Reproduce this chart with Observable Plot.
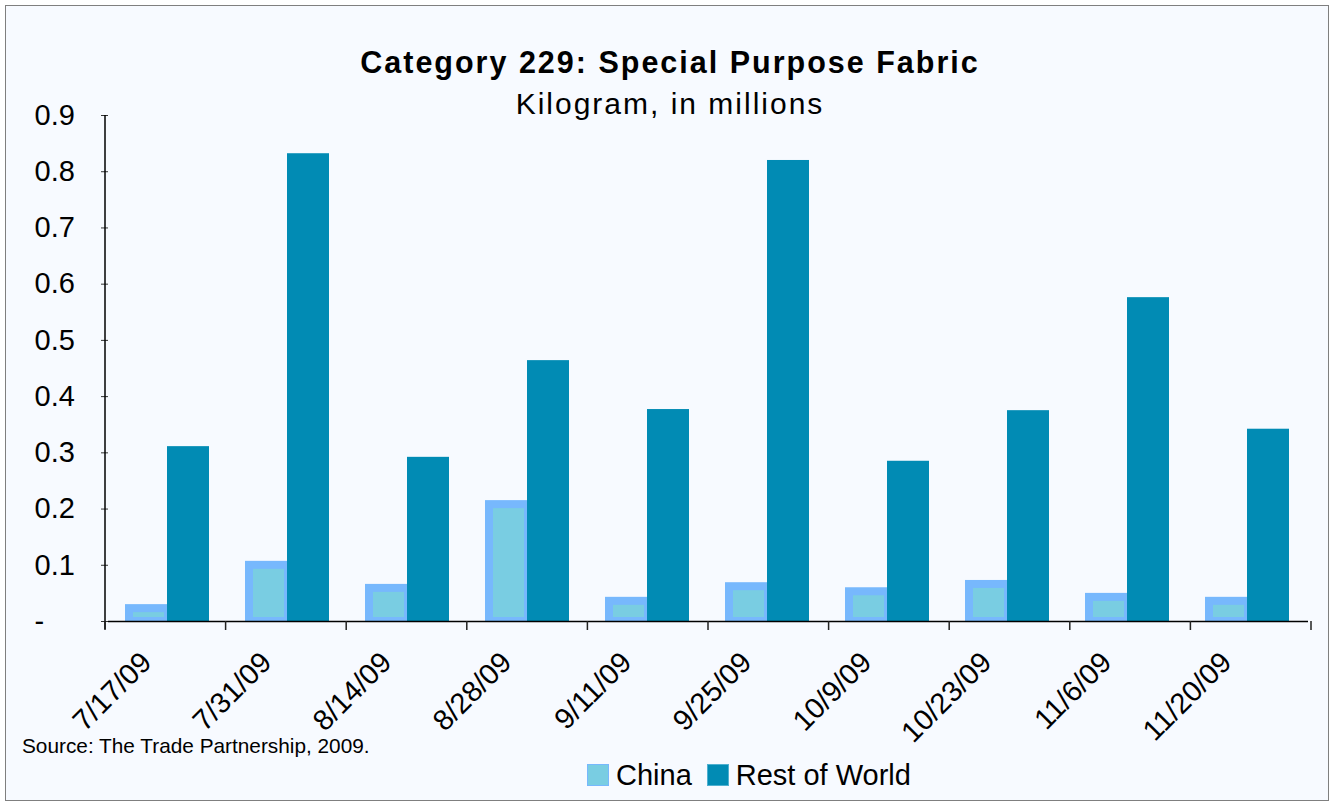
<!DOCTYPE html>
<html>
<head>
<meta charset="utf-8">
<script src="https://cdn.jsdelivr.net/npm/d3@7"></script>
<script src="https://cdn.jsdelivr.net/npm/@observablehq/plot@0.6"></script>
<style>
  html, body { margin: 0; padding: 0; background: #ffffff; }
  body { width: 1331px; height: 804px; position: relative; overflow: hidden; font-family: "Liberation Sans", Arial, sans-serif; }
  #frame { position: absolute; left: 5px; top: 5px; width: 1322px; height: 794px; border: 1px solid #7f7f7f; background: #f7faff; }
  #chart { position: absolute; left: 0; top: 0; }
  .title { position: absolute; left: 0; width: 1340px; text-align: center; line-height: 30px; color: #000; white-space: nowrap; letter-spacing: 2px; }
  #t1 { top: 47px; font-size: 30.5px; font-weight: bold; }
  #t2 { top: 89px; font-size: 30px; }
  #source { position: absolute; left: 22px; top: 735px; font-size: 20.8px; line-height: 21px; color: #000; white-space: nowrap; }
  #legend { position: absolute; left: 587px; top: 760px; font-size: 29px; line-height: 30px; display: flex; align-items: center; white-space: nowrap; color: #000; }
  .sw { display: inline-block; width: 22px; height: 22px; box-sizing: border-box; margin-right: 7px; }
  .item { display: flex; align-items: center; margin-right: 15px; }
</style>
</head>
<body>
<div id="frame"></div>
<div id="chart"></div>
<div class="title" id="t1">Category 229: Special Purpose Fabric</div>
<div class="title" id="t2">Kilogram, in millions</div>
<div id="source">Source: The Trade Partnership, 2009.</div>
<div id="legend"></div>
<script>
const dates = ["7/17/09", "7/31/09", "8/14/09", "8/28/09", "9/11/09", "9/25/09", "10/9/09", "10/23/09", "11/6/09", "11/20/09"];
const series = ["China", "Rest of World"];
const china = [0.030, 0.107, 0.066, 0.215, 0.043, 0.069, 0.060, 0.073, 0.050, 0.043];
const restOfWorld = [0.311, 0.832, 0.292, 0.464, 0.377, 0.820, 0.285, 0.375, 0.576, 0.342];
const yTicks = [0, 0.1, 0.2, 0.3, 0.4, 0.5, 0.6, 0.7, 0.8, 0.9];

const colors = { chinaEdge: "#77b8fd", chinaFill: "#79cde2", rest: "#018bb4" };

const chinaData = dates.map((d, i) => ({ date: d, series: "China", value: china[i] }));
const restData = dates.map((d, i) => ({ date: d, series: "Rest of World", value: restOfWorld[i] }));

const plot = Plot.plot({
  width: 1331,
  height: 804,
  marginTop: 115,
  marginBottom: 183,
  marginLeft: 105,
  marginRight: 20,
  style: { background: "transparent", fontFamily: "\"Liberation Sans\", Arial, sans-serif", fontSize: "29px", color: "#000", overflow: "visible" },
  fx: { domain: dates, padding: 0, label: null },
  x: { domain: series, paddingInner: 0, paddingOuter: 0.42, align: 0.46, axis: null },
  y: { domain: [0, 0.9], label: null },
  marks: [
    Plot.barY(chinaData, { fx: "date", x: "series", y: "value", fill: colors.chinaEdge }),
    Plot.barY(chinaData, { fx: "date", x: "series", y: "value", fill: colors.chinaFill, insetLeft: 8, insetRight: 3, insetTop: 8, insetBottom: 4 }),
    Plot.barY(restData, { fx: "date", x: "series", y: "value", fill: colors.rest }),
    Plot.ruleY([0], { stroke: "#000", strokeWidth: 1.5 }),
    Plot.axisY({ ticks: yTicks, tickSize: 7, tickPadding: 67, textAnchor: "start", tickFormat: d => d === 0 ? "-" : d.toFixed(1), label: null, fontSize: 29, stroke: "#333" }),
    Plot.axisFx({ anchor: "bottom", tickSize: 0, tickRotate: -45, tickPadding: 36, label: null, fontSize: 29, dx: -22 })
  ]
});
document.getElementById("chart").appendChild(plot);

// y axis line and category boundary ticks, placed from the scales
const svg = d3.select(plot);
const fx = plot.scale("fx");
const y = plot.scale("y");
const y0 = y.apply(0), yTop = y.apply(0.9);
const left = fx.range[0], right = fx.range[1];
svg.append("line").attr("x1", left).attr("x2", left).attr("y1", yTop).attr("y2", y0 + 8).attr("stroke", "#000").attr("stroke-width", 1.5);
const step = (right - left) / dates.length;
d3.range(dates.length + 1).forEach(i => {
  const xx = left + i * step;
  svg.append("line").attr("x1", xx).attr("x2", xx).attr("y1", y0).attr("y2", y0 + 9).attr("stroke", "#222").attr("stroke-width", 1.5);
});

// legend
const legend = d3.select("#legend");
const items = [
  { name: series[0], fill: colors.chinaFill, edge: colors.chinaEdge },
  { name: series[1], fill: colors.rest, edge: "#4fb0d0" }
];
items.forEach(it => {
  const div = legend.append("div").attr("class", "item");
  div.append("span").attr("class", "sw").style("background", it.fill).style("border", `1px solid ${it.edge}`);
  div.append("span").text(it.name);
});
</script>
</body>
</html>
